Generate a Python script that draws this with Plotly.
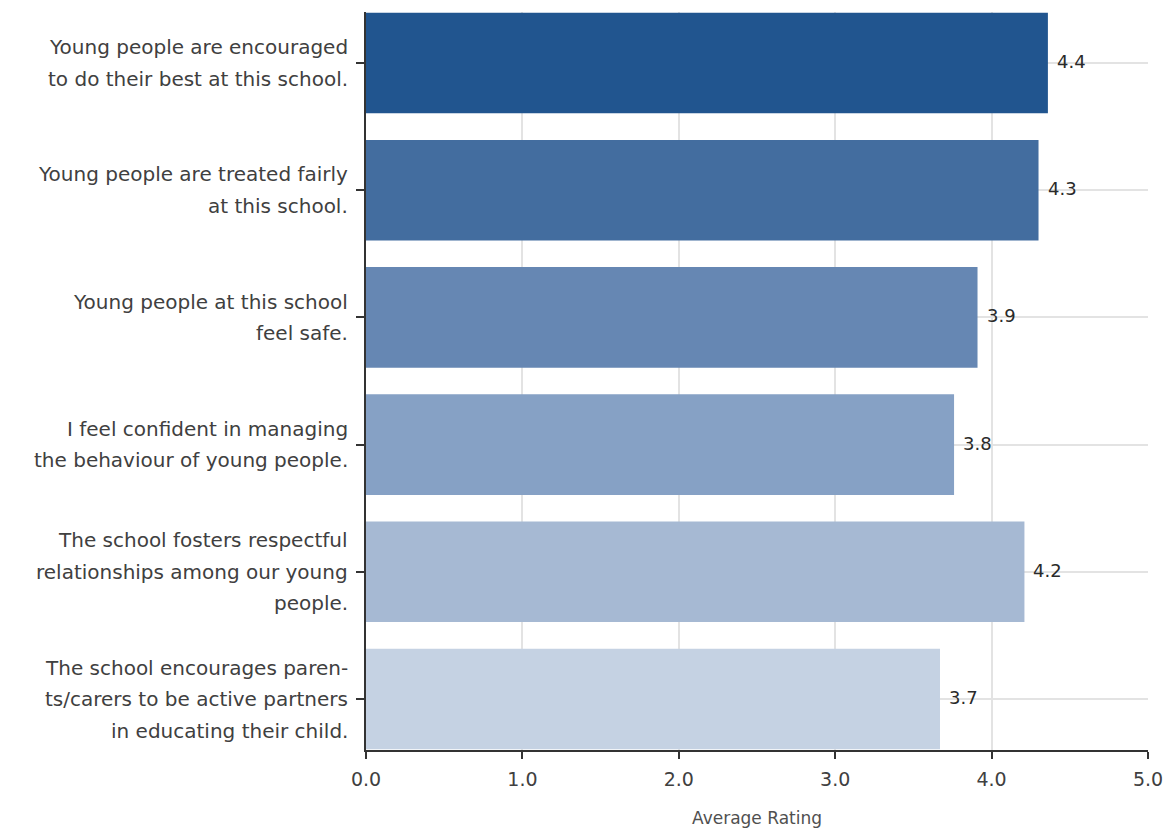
import plotly.graph_objects as go

# Survey statements (line breaks marked with <br>) and their average ratings
categories = [
    "Young people are encouraged<br>to do their best at this school.",
    "Young people are treated fairly<br>at this school.",
    "Young people at this school<br>feel safe.",
    "I feel confident in managing<br>the behaviour of young people.",
    "The school fosters respectful<br>relationships among our young<br>people.",
    "The school encourages paren-<br>ts/carers to be active partners<br>in educating their child.",
]
ratings = [4.36, 4.30, 3.91, 3.76, 4.21, 3.67]
bar_colors = ["#21558f", "#436d9f", "#6687b3", "#86a1c5", "#a6b9d3", "#c5d2e3"]
x_ticks = [0, 1, 2, 3, 4, 5]
x_tick_labels = ["0.0", "1.0", "2.0", "3.0", "4.0", "5.0"]
x_title = "Average Rating"

FONT = "DejaVu Sans"
TEXT_COLOR = "#404040"
LINE_STEP = 31.5

idx = list(range(len(categories)))

fig = go.Figure(
    go.Bar(
        x=ratings,
        y=idx,
        orientation="h",
        width=0.79,
        marker=dict(color=bar_colors, line=dict(width=0)),
        hoverinfo="skip",
    )
)

annotations = []

# Value labels just past the end of each bar
for i, v in enumerate(ratings):
    annotations.append(
        dict(
            x=v,
            y=i,
            xref="x",
            yref="y",
            text=f"{v:.1f}",
            showarrow=False,
            xanchor="left",
            yanchor="middle",
            xshift=7,
            yshift=1.5,
            font=dict(family=FONT, size=18, color="#2a2a2a"),
        )
    )

# Multi-line category labels, one annotation per line for even line spacing
for i, label in enumerate(categories):
    lines = label.split("<br>")
    n = len(lines)
    for j, line in enumerate(lines):
        annotations.append(
            dict(
                x=0,
                xref="paper",
                y=i,
                yref="y",
                text=line,
                showarrow=False,
                xanchor="right",
                yanchor="middle",
                xshift=-16,
                yshift=-(j - (n - 1) / 2) * LINE_STEP,
                font=dict(family=FONT, size=20, color=TEXT_COLOR),
            )
        )

# Axis title below the tick labels
annotations.append(
    dict(
        x=0.5,
        y=0,
        xref="paper",
        yref="paper",
        text=x_title,
        showarrow=False,
        xanchor="center",
        yanchor="top",
        yshift=-56,
        font=dict(family=FONT, size=17, color="#505050"),
    )
)

fig.update_layout(
    width=1165,
    height=829,
    margin=dict(l=366, r=17, t=12, b=79, autoexpand=False),
    paper_bgcolor="white",
    plot_bgcolor="white",
    showlegend=False,
    annotations=annotations,
    xaxis=dict(
        range=[0, 5],
        tickvals=x_ticks,
        ticktext=x_tick_labels,
        automargin=False,
        showgrid=True,
        gridcolor="#e3e3e3",
        gridwidth=1.5,
        zeroline=False,
        showline=True,
        linecolor="#333333",
        linewidth=2,
        ticks="outside",
        ticklen=7,
        tickwidth=2,
        tickcolor="#333333",
        ticklabelstandoff=4,
        tickfont=dict(family=FONT, size=19, color=TEXT_COLOR),
    ),
    yaxis=dict(
        range=[5.4, -0.4],
        tickvals=idx,
        showticklabels=False,
        automargin=False,
        showgrid=True,
        gridcolor="#e3e3e3",
        gridwidth=1.5,
        zeroline=False,
        showline=True,
        linecolor="#333333",
        linewidth=2,
        ticks="outside",
        ticklen=8,
        tickwidth=2,
        tickcolor="#333333",
    ),
)

fig.write_html("out.html")
